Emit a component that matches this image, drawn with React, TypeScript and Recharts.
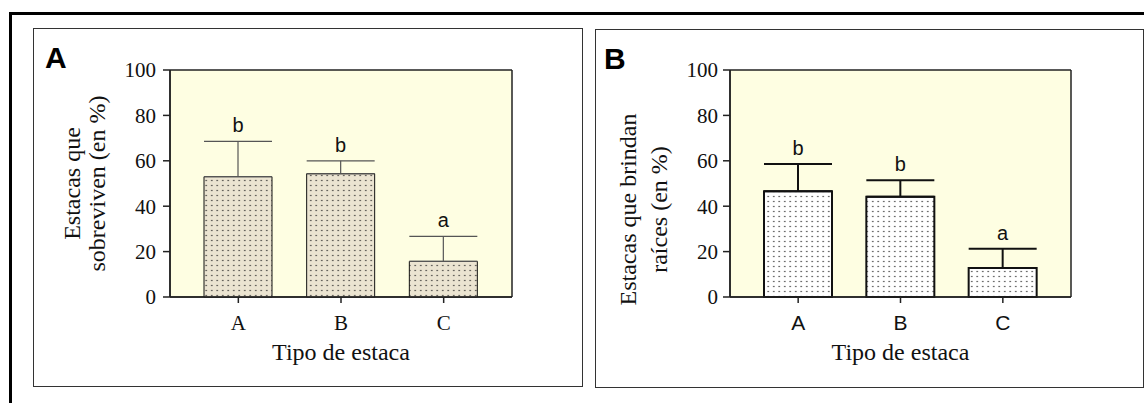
import { BarChart, Bar, XAxis, YAxis, CartesianGrid, ErrorBar, LabelList, Label } from 'recharts';

const categories = ['A', 'B', 'C'];
const survivalMeans = [53, 54.3, 15.7];
const survivalErrors = [15.6, 5.7, 11];
const survivalLetters = ['b', 'b', 'a'];
const rootingMeans = [46.6, 44.2, 12.8];
const rootingErrors = [12, 7.2, 8.5];
const rootingLetters = ['b', 'b', 'a'];
const yTicks = [0, 20, 40, 60, 80, 100];

const serif = "'Liberation Serif', 'Times New Roman', serif";
const sans = "'Liberation Sans', Arial, sans-serif";

function buildRows(means: number[], errors: number[], letters: string[]) {
    return categories.map((name, i) => ({
        name: name,
        value: means[i],
        err: [0, errors[i]],
        letter: letters[i]
    }));
}

// frame lines on the plot edges, taken from the chart offset
const frameRows = (p: any) => [p.offset.top, p.offset.top + p.offset.height];
const frameCols = (p: any) => [p.offset.left, p.offset.left + p.offset.width];

function Panel(props: any) {
    const rows = buildRows(props.means, props.errors, props.letters);
    const errors = props.errors;

    const yTitle = (lp: any) => {
        const vb = lp.viewBox;
        const cy = vb.y + vb.height / 2 + props.yShift;
        return <g>
            {props.yLines.map((line: string, i: number) => {
                const bx = vb.x + props.yBaselines[i];
                return <text key={i} x={bx} y={cy} transform={`rotate(-90, ${bx}, ${cy})`}
                             textAnchor="middle" fontFamily={serif} fontSize={24} fill="#111">{line}</text>
            })}
        </g>
    };

    const xTitle = (lp: any) => {
        const vb = lp.viewBox;
        return <text x={vb.x + vb.width / 2} y={vb.y + 63} textAnchor="middle"
                     fontFamily={serif} fontSize={24} fill="#111">Tipo de estaca</text>
    };

    const letter = (lp: any) => {
        const {x, y, width, height, value, index} = lp;
        const perUnit = height / rows[index].value;
        const top = y - errors[index] * perUnit;
        return <text x={x + width / 2} y={top - 9} textAnchor="middle"
                     fontFamily={sans} fontSize={20} fill="#111">{value}</text>
    };

    return <>
        <div style={{
            position: 'absolute', left: props.left, top: props.top, width: props.width, height: props.height,
            border: '1.5px solid #333', boxSizing: 'border-box'
        }}/>
        <div style={{
            position: 'absolute', left: props.tagLeft, top: props.top + 15, fontFamily: sans,
            fontWeight: 'bold', fontSize: 30, lineHeight: '30px', color: '#000'
        }}>{props.tag}</div>
        <div style={{position: 'absolute', left: props.left, top: props.top}}>
            <BarChart width={props.width} height={props.height} data={rows}
                      margin={{top: props.plotTop, right: props.plotRight, left: 0, bottom: 0}}>
                <defs>
                    <pattern id={props.patternId} width="5.5" height="5" patternUnits="userSpaceOnUse">
                        <rect width="5.5" height="5" fill={props.barFill}/>
                        <circle cx="2.75" cy="2.5" r="0.7" fill="#222"/>
                    </pattern>
                </defs>
                <CartesianGrid fill="#fefee2" stroke="#222" strokeWidth={1.5}
                               horizontalCoordinatesGenerator={frameRows}
                               verticalCoordinatesGenerator={frameCols}/>
                <XAxis dataKey="name" height={props.xAxisHeight} padding={{left: 17, right: 17}}
                       tickSize={6} tickMargin={12} stroke="#222" strokeWidth={1.5}
                       tick={{fill: '#111', fontSize: 21, fontFamily: props.xTickFont}}>
                    <Label content={xTitle}/>
                </XAxis>
                <YAxis domain={[0, 100]} ticks={yTicks} width={props.yAxisWidth} tickSize={7}
                       tickMargin={props.yTickMargin} stroke="#222" strokeWidth={1.5} interval={0}
                       tick={{fill: '#111', fontSize: 21, fontFamily: serif}}>
                    <Label content={yTitle}/>
                </YAxis>
                <Bar dataKey="value" fill={`url(#${props.patternId})`} stroke="#111"
                     strokeWidth={props.barStroke} barSize={68} isAnimationActive={false}>
                    <ErrorBar dataKey="err" width={34} stroke={props.errColor}
                              strokeWidth={props.errWidth} direction="y"/>
                    <LabelList dataKey="letter" content={letter}/>
                </Bar>
            </BarChart>
        </div>
    </>
}

export default function App() {
    return <div style={{
        position: 'fixed', left: 0, top: 0, width: 1144, height: 403, overflow: 'hidden', background: '#fff'
    }}>
        <div style={{
            position: 'absolute', left: 9, top: 12, width: 1300, height: 600,
            border: '3px solid #000', boxSizing: 'border-box'
        }}/>
        <Panel left={33} top={28} width={550} height={359} tag="A" tagLeft={45}
               means={survivalMeans} errors={survivalErrors} letters={survivalLetters}
               yLines={['Estacas que', 'sobreviven (en %)']} yBaselines={[47, 72]} yShift={0}
               plotTop={42} plotRight={71} xAxisHeight={90} yAxisWidth={137} yTickMargin={7}
               barFill="#ebe4d1" barStroke={1} errColor="#555" errWidth={1.2}
               xTickFont={serif} patternId="dotsA"/>
        <Panel left={595} top={29} width={549} height={359} tag="B" tagLeft={604}
               means={rootingMeans} errors={rootingErrors} letters={rootingLetters}
               yLines={['Estacas que brindan', 'raíces (en %)']} yBaselines={[41, 72]} yShift={26}
               plotTop={41} plotRight={73} xAxisHeight={91} yAxisWidth={135} yTickMargin={5}
               barFill="#ffffff" barStroke={2} errColor="#111" errWidth={2}
               xTickFont={sans} patternId="dotsB"/>
    </div>
}
